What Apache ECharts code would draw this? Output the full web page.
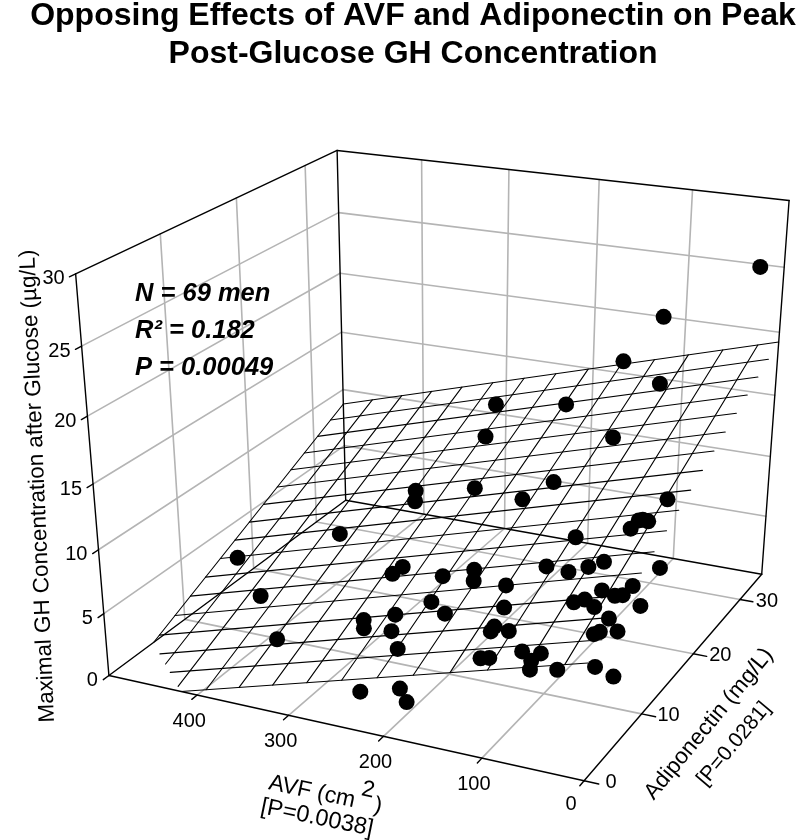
<!DOCTYPE html>
<html><head><meta charset="utf-8"><style>html,body{margin:0;background:#fff}#c{width:800px;height:840px}</style>
<script src="https://cdn.jsdelivr.net/npm/echarts@6/dist/echarts.min.js"></script></head>
<body><div id="c"></div>
<script>
// ---- data ----
const avf = [22,121,163,114,298,210,281,128,319,310,250,185,373,268,275,215,185,177,139,208,185,125,269,263,238,230,210,122,123,105,115,107,78,63,58,227,186,180,162,26,42,32,45,98,52,109,82,64,6,7,36,12,19,57,47,33,6,12,6,12,17,58,32,6,5,479,413,353,38];
const adiponectin = [34.4,34.4,34.4,32.9,32.8,31.6,28.3,26.4,22.0,20.6,21.7,19.7,17.3,12.6,12.0,11.2,11.7,10.4,9.7,8.4,7.1,7.2,6.8,6.0,7.2,5.5,3.6,5.2,4.8,4.8,2.0,2.1,2.6,1.6,0.6,0.5,0.5,0.6,21.4,18.2,15.9,15.8,15.0,14.6,11.6,11.5,10.7,11.0,13.4,8.6,8.5,7.8,7.7,7.4,7.5,6.7,10.0,5.5,6.0,4.0,3.9,2.3,0.6,2.3,5.4,15.3,10.5,5.3,15.9];
const gh = [25.0,20.2,16.2,15.4,11.7,13.1,10.8,13.2,8.2,8.0,9.4,10.1,5.8,6.5,6.1,7.1,7.8,7.6,8.1,6.4,6.4,7.7,4.8,4.6,5.5,5.1,4.9,7.2,7.0,7.3,6.4,6.5,7.2,7.2,7.1,2.8,3.7,2.7,11.1,12.7,11.8,11.9,11.5,10.3,10.3,9.2,9.5,10.0,9.7,10.4,9.7,10.0,9.9,9.0,9.3,9.3,8.3,9.3,8.2,9.0,8.8,7.5,7.5,7.3,5.1,3.2,3.0,2.7,11.9];
const avfTicks = [0,100,200,300,400];
const adipTicks = [0,10,20,30];
const ghTicks = [0,5,10,15,20,25,30];
const AVF_MAX = 500, ADIP_MAX = 35, GH_MAX = 30;
// regression plane shown as the mesh
const planeB0 = 8.78, planeAvf = -0.0210, planeAdip = 0.2986;
const meshAvfStep = 36.8, meshAvfLines = 14, meshAdipLines = 17;
// camera: 3-D box to picture
const cam = [[-464.76,327.41,-43.81,584.09],[-40.63,-93.64,-466.67,780.76],[0.09564,0.19665,-0.09703,1]];

function project(a,d,g){
  const v=[a/AVF_MAX,d/ADIP_MAX,g/GH_MAX,1];
  const dot=r=>r[0]*v[0]+r[1]*v[1]+r[2]*v[2]+r[3];
  const h=dot(cam[2]);
  return [dot(cam[0])/h,dot(cam[1])/h];
}
const seg=(p,q)=>[...project(...p),...project(...q)];
const plane=(a,d)=>planeB0+planeAvf*a+planeAdip*d;

// grey wall and floor grid
const grey=[];
ghTicks.slice(1,-1).forEach(g=>{grey.push(seg([AVF_MAX,0,g],[AVF_MAX,ADIP_MAX,g]));grey.push(seg([AVF_MAX,ADIP_MAX,g],[0,ADIP_MAX,g]));});
avfTicks.slice(1).forEach(a=>{grey.push(seg([a,0,0],[a,ADIP_MAX,0]));grey.push(seg([a,ADIP_MAX,0],[a,ADIP_MAX,GH_MAX]));});
adipTicks.slice(1).forEach(d=>{grey.push(seg([0,d,0],[AVF_MAX,d,0]));grey.push(seg([AVF_MAX,d,0],[AVF_MAX,d,GH_MAX]));});
// black frame
const M=[AVF_MAX,ADIP_MAX,GH_MAX];
const frame=[
 seg([0,0,0],[M[0],0,0]),seg([0,0,0],[0,M[1],0]),seg([M[0],0,0],[M[0],M[1],0]),seg([0,M[1],0],[M[0],M[1],0]),
 seg([M[0],0,0],[M[0],0,M[2]]),seg([M[0],M[1],0],[M[0],M[1],M[2]]),seg([0,M[1],0],[0,M[1],M[2]]),
 seg([M[0],0,M[2]],[M[0],M[1],M[2]]),seg([M[0],M[1],M[2]],[0,M[1],M[2]])];
avfTicks.forEach(a=>frame.push(seg([a,0,0],[a,-0.7,0])));
adipTicks.forEach(d=>frame.push(seg([0,d,0],[-14,d,0])));
ghTicks.forEach(g=>frame.push(seg([M[0],0,g],[M[0],-0.7,g])));
// regression mesh, clipped at the floor
const mesh=[];
function meshLine(a0,d0,a1,d1){
  const g0=plane(a0,d0),g1=plane(a1,d1);
  if(g0<=0&&g1<=0)return;
  let t0=0,t1=1;
  if(g0<0)t0=g0/(g0-g1);
  if(g1<0)t1=g0/(g0-g1);
  const at=t=>{const a=a0+(a1-a0)*t,d=d0+(d1-d0)*t;return[a,d,plane(a,d)]};
  mesh.push(seg(at(t0),at(t1)));
}
for(let k=0;k<meshAvfLines;k++){const a=AVF_MAX-k*meshAvfStep;meshLine(a,0,a,ADIP_MAX);}
for(let k=0;k<meshAdipLines;k++){const d=ADIP_MAX*k/(meshAdipLines-1);meshLine(0,d,AVF_MAX,d);}

const FONT='"Liberation Sans", Arial, sans-serif';
function tx(text,p,o){return Object.assign({text,x:p[0],y:p[1],size:20,rot:0,align:'center'},o||{});}
const add=(p,dx,dy)=>[p[0]+dx,p[1]+dy];
const labels=[];
ghTicks.forEach(g=>labels.push(tx(String(g),add(project(M[0],0,g),-11,5),{align:'right'})));
avfTicks.forEach(a=>labels.push(tx(String(a),add(project(a,0,0),a===0?-13:-8,a===0?24:26))));
adipTicks.forEach(d=>labels.push(tx(String(d),add(project(0,d,0),27,2))));
labels.push(tx('Maximal GH Concentration after Glucose (µg/L)',[38,486],{size:22.4,rot:92.4}));
labels.push(tx('AVF (cm',[312,792],{size:23,rot:-12}));
labels.push(tx('2',[368,790],{size:23,rot:-12}));
labels.push(tx(')',[378,806],{size:23,rot:-12}));
labels.push(tx('[P=0.0038]',[317,818],{size:23.5,rot:-11.5}));
labels.push(tx('Adiponectin (mg/L)',[709,724],{size:22.5,rot:50.5}));
labels.push(tx('[P=0.0281]',[734,744],{size:21,rot:50}));
['N = 69 men','R² = 0.182','P = 0.00049'].forEach((s,i)=>labels.push(tx(s,[135,294+37*i],{size:25.5,align:'left',bold:true})));

function lineSeries(data,color,width,z){
  return {type:'custom',coordinateSystem:'cartesian2d',silent:true,z,data,clip:false,
    renderItem:(p,api)=>{
      const a=api.coord([api.value(0),api.value(1)]),b=api.coord([api.value(2),api.value(3)]);
      return {type:'line',shape:{x1:a[0],y1:a[1],x2:b[0],y2:b[1]},style:{stroke:color,lineWidth:width,lineCap:'round'}};
    }};
}
const chart=echarts.init(document.getElementById('c'),null,{renderer:'canvas'});
chart.setOption({
  animation:false,backgroundColor:'#fff',
  title:{text:'Opposing Effects of AVF and Adiponectin on Peak\nPost-Glucose GH Concentration',left:408,top:-8,textAlign:'center',
    textStyle:{fontFamily:FONT,fontWeight:'bold',fontSize:32,lineHeight:38,color:'#000'}},
  grid:{left:0,right:0,top:0,bottom:0},
  xAxis:{type:'value',min:0,max:800,show:false},
  yAxis:{type:'value',min:0,max:840,inverse:true,show:false},
  tooltip:{show:false},
  series:[
    lineSeries(grey,'#b4b4b4',1.6,1),
    lineSeries(frame,'#000',1.4,2),
    lineSeries(mesh,'#000',1.1,3),
    {type:'scatter',name:'Men',z:4,symbol:'circle',symbolSize:16,silent:true,clip:false,itemStyle:{color:'#000',opacity:1},
      data:avf.map((a,i)=>project(a,adiponectin[i],gh[i]))},
    {type:'custom',coordinateSystem:'cartesian2d',silent:true,z:5,clip:false,data:labels.map((l,i)=>[l.x,l.y,i]),
      renderItem:(p,api)=>{
        const l=labels[api.value(2)],c=api.coord([api.value(0),api.value(1)]);
        return {type:'text',x:c[0],y:c[1],rotation:l.rot*Math.PI/180,
          style:{text:l.text,fontFamily:FONT,fontSize:l.size,fontWeight:l.bold?'bold':'normal',fontStyle:l.bold?'italic':'normal',
            fill:'#000',textAlign:l.align,textVerticalAlign:'middle'}};
      }}
  ]
});
</script></body></html>
